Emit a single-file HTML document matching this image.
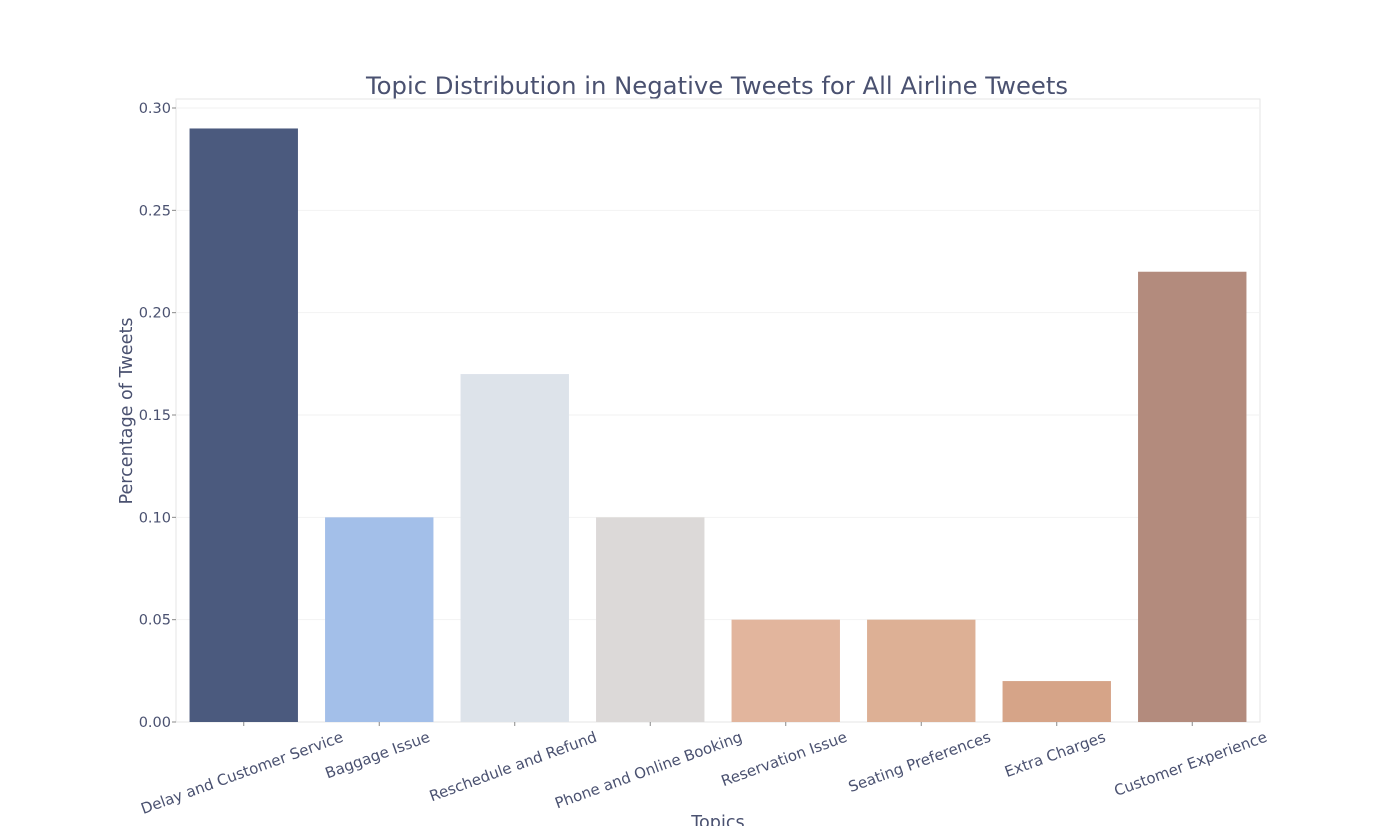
<!DOCTYPE html>
<html><head><meta charset="utf-8"><style>
body{margin:0;background:#fff;}
svg text{font-family:"DejaVu Sans","Liberation Sans",sans-serif;fill:#4a5170;}
</style></head><body>
<svg id="chart" width="1400" height="826" xmlns="http://www.w3.org/2000/svg">
<rect width="1400" height="826" fill="#fff"/>
<text x="717" y="94" font-size="24.3" text-anchor="middle">Topic Distribution in Negative Tweets for All Airline Tweets</text>
<rect x="176" y="99" width="1084" height="623" fill="none" stroke="#e6e6e6"/>
<g id="grid"></g><g id="bars"></g><g id="xlabels"></g><g id="ylabels"></g>
<text transform="translate(132,411) rotate(-90)" font-size="17.6" text-anchor="middle">Percentage of Tweets</text>
<text x="718" y="828" font-size="17.6" text-anchor="middle">Topics</text>
</svg>
<script>
const categories=["Delay and Customer Service","Baggage Issue","Reschedule and Refund","Phone and Online Booking","Reservation Issue","Seating Preferences","Extra Charges","Customer Experience"];
const values=[0.29,0.10,0.17,0.10,0.05,0.05,0.02,0.22];
const colors=["#4b5a7e","#a3bfe9","#dde3ea","#dcd9d8","#e2b59d","#ddb095","#d6a488","#b38b7d"];
const yTicks=[0,0.05,0.10,0.15,0.20,0.25,0.30];
const yTickLabels=["0.00","0.05","0.10","0.15","0.20","0.25","0.30"];
const NS="http://www.w3.org/2000/svg";
const x0=176,x1=1260,yBase=722,yTop=99,yMax=0.3044;
const band=(x1-x0)/categories.length;
const y=v=>yBase-(v/yMax)*(yBase-yTop);
const xc=i=>x0+band*(i+0.5);
function mk(t,a,p){const e=document.createElementNS(NS,t);for(const k in a)e.setAttribute(k,a[k]);document.getElementById(p).appendChild(e);return e;}
yTicks.forEach((v,i)=>{
 const g=mk('line',{x1:x0,x2:x1,y1:y(v),y2:y(v),stroke:i==0?'#e6e6e6':'#f2f2f2'},'grid');
 
 
 mk('line',{x1:x0-4,x2:x0,y1:y(v),y2:y(v),stroke:'#888'},'grid');
 const t=mk('text',{x:x0-5,y:y(v)+5,'font-size':14.5,'text-anchor':'end'},'ylabels');
 t.textContent=yTickLabels[i];
 
 
});
values.forEach((v,i)=>{
 const w=band*0.8;
 const r=mk('rect',{x:xc(i)-w/2,y:y(v),width:w,height:yBase-y(v),fill:colors[i]},'bars');
 
 
 mk('line',{x1:xc(i),x2:xc(i),y1:yBase,y2:yBase+4,stroke:'#888'},'grid');
 const t=mk('text',{'font-size':15,'text-anchor':'middle'},'xlabels');
 t.textContent=categories[i];
 
 
 const L=t.getComputedTextLength();
 t.setAttribute('transform',`translate(${xc(i)},${yBase+19+L/2*0.342}) rotate(-20)`);
});
</script>
</body></html>
